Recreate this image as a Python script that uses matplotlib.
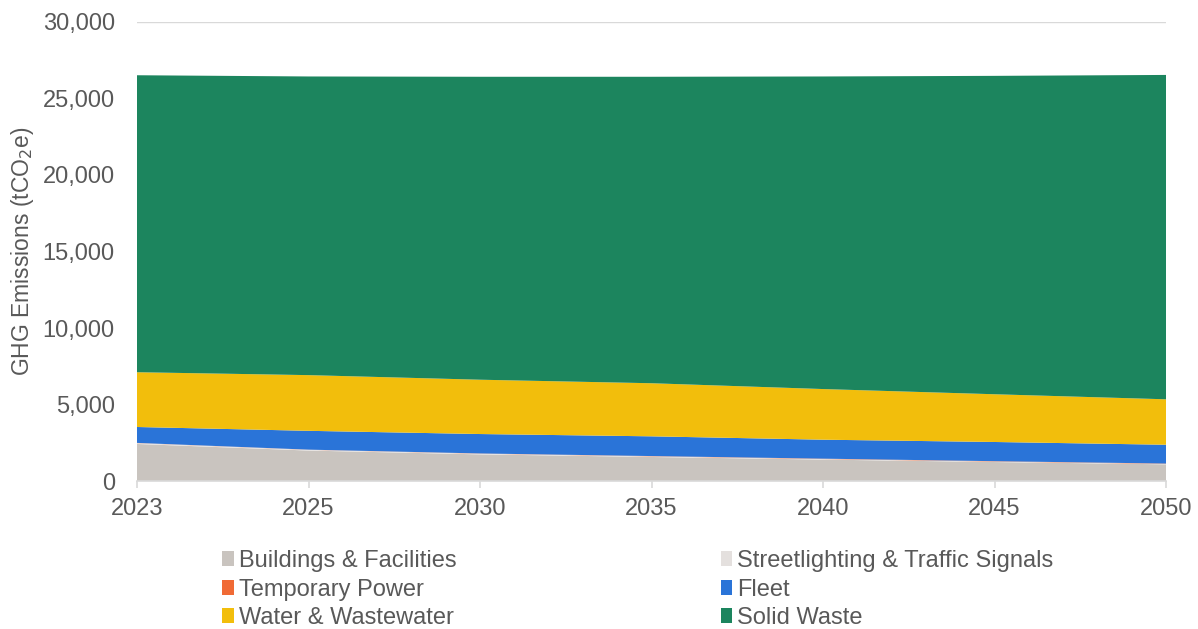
import matplotlib
matplotlib.use("Agg")
import matplotlib.pyplot as plt
from matplotlib.patches import Patch
from matplotlib.ticker import FuncFormatter

plt.rcParams['font.family'] = ['Liberation Sans', 'DejaVu Sans']

years = ["2023", "2025", "2030", "2035", "2040", "2045", "2050"]
buildings = [2420, 1990, 1740, 1570, 1400, 1240, 1090]
streetlighting = [60, 50, 45, 40, 35, 30, 25]
temporary = [10, 10, 15, 20, 25, 25, 25]
fleet = [1040, 1230, 1270, 1290, 1240, 1255, 1230]
water = [3580, 3640, 3550, 3470, 3310, 3120, 2970]
solid_waste = [19410, 19520, 19800, 20030, 20430, 20810, 21200]

labels = ["Buildings & Facilities", "Streetlighting & Traffic Signals",
          "Temporary Power", "Fleet", "Water & Wastewater", "Solid Waste"]
colors = ["#C9C4BF", "#E4E0DE", "#F06A35", "#2A74D8", "#F2BE0C", "#1C855E"]

fig = plt.figure(figsize=(11.98, 6.29), dpi=100)
ax = fig.add_axes([137/1198, 1-481/629, (1166-137)/1198, (481-22)/629])

x = list(range(len(years)))
ax.stackplot(x, buildings, streetlighting, temporary, fleet, water, solid_waste,
             colors=colors, labels=labels, linewidth=0, zorder=2)

ax.set_xlim(0, len(years)-1)
ax.set_ylim(0, 30000)
ax.set_yticks(range(0, 30001, 5000))
ax.yaxis.set_major_formatter(FuncFormatter(lambda v, p: f"{int(v):,}"))
ax.set_xticks(x)
ax.set_xticklabels(years)
ax.grid(axis='y', color='#D9D9D9', linewidth=1, zorder=0)
ax.set_axisbelow(True)
for s in ['top', 'right', 'left']:
    ax.spines[s].set_visible(False)
ax.spines['bottom'].set_color('#D9D9D9')
ax.spines['bottom'].set_linewidth(1.2)
ax.spines['bottom'].set_zorder(3)
ax.tick_params(axis='y', length=0, pad=16, labelsize=17, labelcolor='#595959')
ax.tick_params(axis='x', length=5, width=1.2, color='#D9D9D9', pad=7,
               labelsize=17, labelcolor='#595959')
ax.set_ylabel("GHG Emissions (tCO$_2$e)", fontsize=16.5, color='#595959', labelpad=4.5)

order = [0, 2, 4, 1, 3, 5]
handles = [Patch(facecolor=colors[i], edgecolor='none') for i in order]
fig.legend(handles, [labels[i] for i in order], ncol=2, loc='upper left',
           bbox_to_anchor=(222/1198, 1-550/629), frameon=False, fontsize=17,
           labelcolor='#595959', handlelength=0.5, handleheight=0.6,
           handletextpad=0.2, columnspacing=11.2, labelspacing=0.28,
           borderpad=0, borderaxespad=0)

fig.savefig("out.png", dpi=100)
